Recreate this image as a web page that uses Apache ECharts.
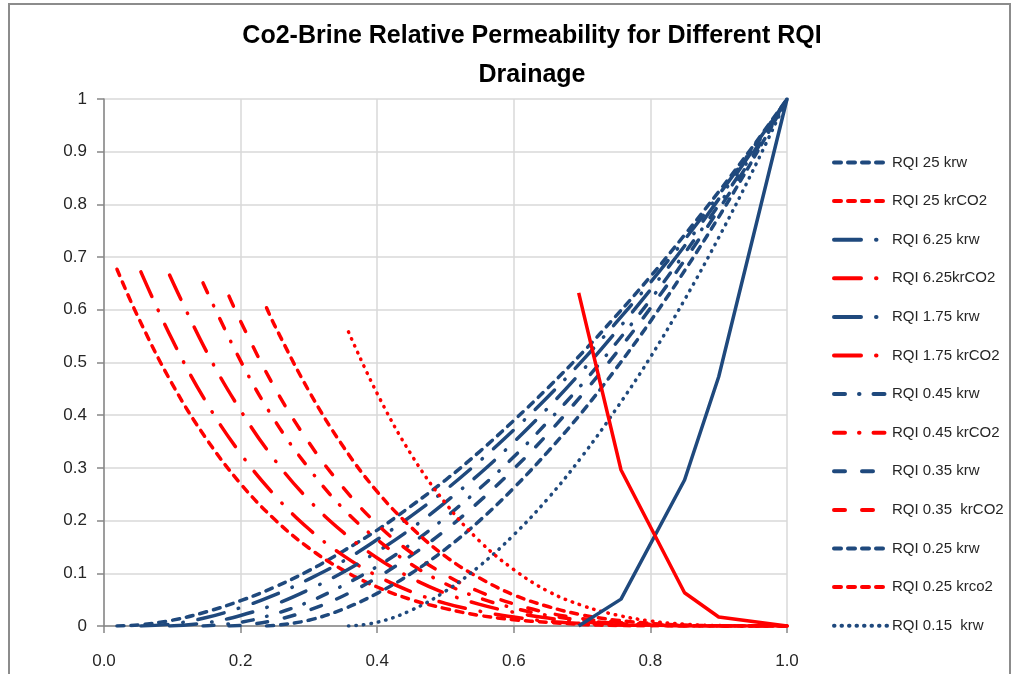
<!DOCTYPE html>
<html>
<head>
<meta charset="utf-8">
<script src="https://cdn.jsdelivr.net/npm/echarts@6/dist/echarts.min.js"></script>
<style>
html,body{margin:0;padding:0;background:#fff;}
#chart{width:1025px;height:674px;}
</style>
</head>
<body>
<div id="chart"></div>
<script>
// ---- data ----
const titleText = 'Co2-Brine Relative Permeability for Different RQI\nDrainage';

// RQI 25
const sw25 = [0.019, 0.05, 0.10, 0.15, 0.20, 0.25, 0.30, 0.35, 0.40, 0.45, 0.50, 0.55, 0.60, 0.65, 0.70, 0.75, 0.80, 0.85, 0.90, 0.95, 1.0];
const krw25 = [0, 0.002, 0.011, 0.027, 0.048, 0.074, 0.105, 0.142, 0.182, 0.228, 0.277, 0.331, 0.390, 0.452, 0.518, 0.589, 0.663, 0.742, 0.824, 0.910, 1];
const krg25 = [0.677, 0.586, 0.459, 0.355, 0.270, 0.202, 0.148, 0.106, 0.074, 0.050, 0.033, 0.020, 0.012, 0.007, 0.003, 0.001, 0.0005, 0.0001, 0, 0, 0];

// RQI 6.25
const sw625 = [0.054, 0.10, 0.15, 0.20, 0.25, 0.30, 0.35, 0.40, 0.45, 0.50, 0.55, 0.60, 0.65, 0.70, 0.75, 0.80, 0.85, 0.90, 0.95, 1.0];
const krw625 = [0, 0.004, 0.016, 0.035, 0.059, 0.089, 0.123, 0.164, 0.209, 0.258, 0.313, 0.372, 0.435, 0.503, 0.576, 0.652, 0.733, 0.818, 0.907, 1];
const krg625 = [0.672, 0.543, 0.424, 0.327, 0.248, 0.184, 0.134, 0.095, 0.065, 0.043, 0.028, 0.017, 0.009, 0.005, 0.002, 0.001, 0.0002, 0, 0, 0];

// RQI 1.75
const sw175 = [0.096, 0.15, 0.20, 0.25, 0.30, 0.35, 0.40, 0.45, 0.50, 0.55, 0.60, 0.65, 0.70, 0.75, 0.80, 0.85, 0.90, 0.95, 1.0];
const krw175 = [0, 0.006, 0.020, 0.041, 0.069, 0.102, 0.141, 0.185, 0.235, 0.289, 0.349, 0.414, 0.484, 0.559, 0.638, 0.721, 0.810, 0.903, 1];
const krg175 = [0.666, 0.521, 0.409, 0.315, 0.239, 0.178, 0.129, 0.091, 0.062, 0.041, 0.026, 0.015, 0.008, 0.004, 0.002, 0.0005, 0.0001, 0, 0];

// RQI 0.45
const sw045 = [0.145, 0.20, 0.25, 0.30, 0.35, 0.40, 0.45, 0.50, 0.55, 0.60, 0.65, 0.70, 0.75, 0.80, 0.85, 0.90, 0.95, 1.0];
const krw045 = [0, 0.007, 0.023, 0.046, 0.077, 0.113, 0.156, 0.206, 0.261, 0.321, 0.388, 0.459, 0.537, 0.619, 0.707, 0.799, 0.897, 1];
const krg045 = [0.651, 0.503, 0.390, 0.299, 0.223, 0.164, 0.117, 0.080, 0.053, 0.034, 0.020, 0.011, 0.005, 0.002, 0.0007, 0.0001, 0, 0];

// RQI 0.35
const sw035 = [0.183, 0.20, 0.25, 0.30, 0.35, 0.40, 0.45, 0.50, 0.55, 0.60, 0.65, 0.70, 0.75, 0.80, 0.85, 0.90, 0.95, 1.0];
const krw035 = [0, 0.001, 0.011, 0.030, 0.057, 0.092, 0.134, 0.182, 0.237, 0.298, 0.365, 0.439, 0.518, 0.603, 0.694, 0.790, 0.892, 1];
const krg035 = [0.626, 0.578, 0.452, 0.348, 0.263, 0.193, 0.139, 0.097, 0.065, 0.042, 0.025, 0.014, 0.007, 0.003, 0.001, 0.0002, 0, 0];

// RQI 0.25
const sw025 = [0.238, 0.25, 0.30, 0.35, 0.40, 0.45, 0.50, 0.55, 0.60, 0.65, 0.70, 0.75, 0.80, 0.85, 0.90, 0.95, 1.0];
const krw025 = [0, 0.001, 0.011, 0.032, 0.062, 0.100, 0.146, 0.200, 0.262, 0.331, 0.406, 0.489, 0.578, 0.674, 0.776, 0.885, 1];
const krg025 = [0.604, 0.570, 0.446, 0.341, 0.255, 0.187, 0.132, 0.091, 0.059, 0.037, 0.021, 0.011, 0.005, 0.0017, 0.0004, 0, 0];

// RQI 0.15
const sw015 = [0.358, 0.40, 0.45, 0.50, 0.55, 0.60, 0.65, 0.70, 0.75, 0.80, 0.85, 0.90, 0.95, 1.0];
const krw015 = [0, 0.007, 0.030, 0.066, 0.114, 0.173, 0.242, 0.322, 0.412, 0.510, 0.619, 0.737, 0.864, 1];
const krg015 = [0.558, 0.441, 0.325, 0.233, 0.161, 0.107, 0.066, 0.039, 0.021, 0.0095, 0.0035, 0.0008, 0.0001, 0];

// lowest RQI (solid lines, not in the legend)
const swLow = [0.695, 0.757, 0.85, 0.90, 1.0];
const krwLow = [0, 0.051, 0.277, 0.473, 1.0];
const krgLow = [0.632, 0.296, 0.063, 0.017, 0];

const legendNames = ['RQI 25 krw', 'RQI 25 krCO2', 'RQI 6.25 krw', 'RQI 6.25krCO2', 'RQI 1.75 krw', 'RQI 1.75 krCO2',
  'RQI 0.45 krw', 'RQI 0.45 krCO2', 'RQI 0.35 krw', 'RQI 0.35  krCO2', 'RQI 0.25 krw', 'RQI 0.25 krco2', 'RQI 0.15  krw'];

// ---- styles ----
const BLUE = '#1f497d';
const RED = '#ff0000';
const FONT = '"Liberation Sans Narrow", "Liberation Sans", Arial, sans-serif';
const DASH = {
  shortDash: [7, 7],
  longDashDot: [27, 15, 0.5, 15],
  dashDot: [11, 14, 0.5, 14],
  dash: [11, 17],
  dot: [0.5, 7],
  solid: 'solid'
};

function pairs(xs, ys) { return xs.map((x, i) => [x, ys[i]]); }

function mk(name, xs, ys, color, dash, smooth) {
  return {
    name: name,
    type: 'line',
    data: pairs(xs, ys),
    symbol: 'none',
    showSymbol: false,
    smooth: smooth,
    animation: false,
    lineStyle: { color: color, width: 3.5, type: DASH[dash], cap: dash === 'solid' ? 'butt' : 'round', join: 'round' },
    itemStyle: { color: color },
    emphasis: { disabled: true }
  };
}

const series = [
  mk('RQI 25 krw', sw25, krw25, BLUE, 'shortDash', 0.4),
  mk('RQI 25 krCO2', sw25, krg25, RED, 'shortDash', 0.4),
  mk('RQI 6.25 krw', sw625, krw625, BLUE, 'longDashDot', 0.4),
  mk('RQI 6.25krCO2', sw625, krg625, RED, 'longDashDot', 0.4),
  mk('RQI 1.75 krw', sw175, krw175, BLUE, 'longDashDot', 0.4),
  mk('RQI 1.75 krCO2', sw175, krg175, RED, 'longDashDot', 0.4),
  mk('RQI 0.45 krw', sw045, krw045, BLUE, 'dashDot', 0.4),
  mk('RQI 0.45 krCO2', sw045, krg045, RED, 'dashDot', 0.4),
  mk('RQI 0.35 krw', sw035, krw035, BLUE, 'dash', 0.4),
  mk('RQI 0.35  krCO2', sw035, krg035, RED, 'dash', 0.4),
  mk('RQI 0.25 krw', sw025, krw025, BLUE, 'shortDash', 0.4),
  mk('RQI 0.25 krco2', sw025, krg025, RED, 'shortDash', 0.4),
  mk('RQI 0.15  krw', sw015, krw015, BLUE, 'dot', 0.4),
  mk('RQI 0.15  krCO2', sw015, krg015, RED, 'dot', 0.4),
  mk('RQI low krw', swLow, krwLow, BLUE, 'solid', false),
  mk('RQI low krCO2', swLow, krgLow, RED, 'solid', false)
];

const chart = echarts.init(document.getElementById('chart'), null, { renderer: 'canvas' });
chart.setOption({
  backgroundColor: '#ffffff',
  animation: false,
  title: {
    text: titleText,
    left: 527,
    top: 12,
    textAlign: 'center',
    textStyle: { fontFamily: FONT, fontWeight: 'bold', fontSize: 25, lineHeight: 39, color: '#000000' }
  },
  legend: {
    data: legendNames,
    orient: 'vertical',
    left: 832,
    top: 155,
    padding: 0,
    itemWidth: 53,
    itemHeight: 14,
    itemGap: 23.6,
    selectedMode: false,
    itemStyle: { opacity: 0 },
    lineStyle: { width: 4 },
    textStyle: { fontFamily: FONT, fontSize: 15, color: '#262626' }
  },
  grid: { left: 104, right: 238, top: 99, bottom: 48, containLabel: false },
  xAxis: {
    type: 'value',
    min: 0, max: 1, interval: 0.2,
    axisLine: { show: true, lineStyle: { color: '#868686', width: 1.5 } },
    axisTick: { show: true, length: 7, lineStyle: { color: '#868686', width: 1.5 } },
    splitLine: { show: true, lineStyle: { color: '#d9d9d9', width: 1.5 } },
    axisLabel: { margin: 27, fontFamily: FONT, fontSize: 17, color: '#262626', formatter: v => v.toFixed(1) }
  },
  yAxis: {
    type: 'value',
    min: 0, max: 1, interval: 0.1,
    axisLine: { show: true, lineStyle: { color: '#868686', width: 1.5 } },
    axisTick: { show: true, length: 7, lineStyle: { color: '#868686', width: 1.5 } },
    splitLine: { show: true, lineStyle: { color: '#d9d9d9', width: 1.5 } },
    axisLabel: { margin: 17, fontFamily: FONT, fontSize: 17, color: '#262626', formatter: v => (Math.round(v * 10) / 10).toString() }
  },
  graphic: [{
    type: 'rect', silent: true, z: -1,
    shape: { x: 9, y: 4, width: 1001, height: 700 },
    style: { fill: null, stroke: '#8c8c8c', lineWidth: 2 }
  }],
  series: series
});
</script>
</body>
</html>
